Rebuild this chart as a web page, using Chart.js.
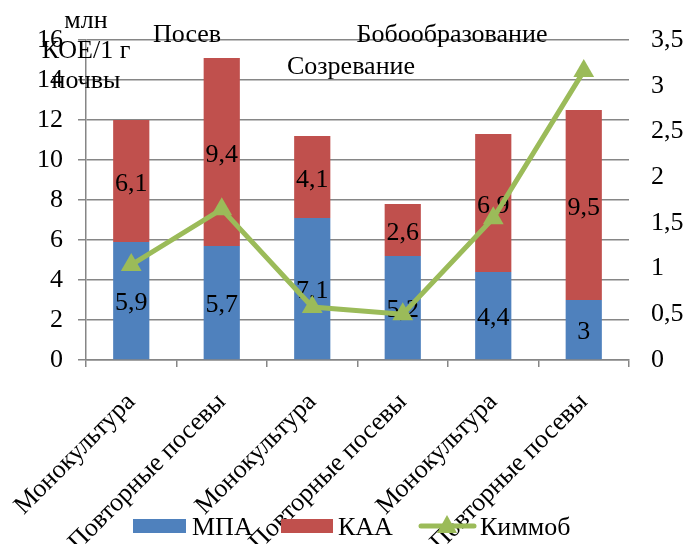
<!DOCTYPE html>
<html><head><meta charset="utf-8">
<script src="https://cdn.jsdelivr.net/npm/chart.js@4/dist/chart.umd.min.js"></script>
<style>html,body{margin:0;padding:0;background:#fff}#wrap{width:686px;height:544px}</style>
</head><body><div id="wrap"><canvas id="c" width="686" height="544"></canvas></div>
<script>
const categories = ['Монокультура','Повторные посевы','Монокультура','Повторные посевы','Монокультура','Повторные посевы'];
const mpaValues = [5.9, 5.7, 7.1, 5.2, 4.4, 3];
const kaaValues = [6.1, 9.4, 4.1, 2.6, 6.9, 9.5];
const kimmobValues = [1.04, 1.65, 0.58, 0.5, 1.55, 3.16];
const seriesNames = ['МПА','КАА','Киммоб'];
const leftTicks = [0,2,4,6,8,10,12,14,16];
const rightTicks = [0,0.5,1,1.5,2,2.5,3,3.5];
const stageLabels = ['Посев','Созревание','Бобообразование'];
const axisTitleLines = ['млн','КОЕ/1 г','почвы'];

const FONT = '"Liberation Serif", "Times New Roman", serif';
const BLUE = '#4F81BD', RED = '#C0504D', GREEN = '#9BBB59', GRID = '#868686';
const fmt = v => String(v).replace('.', ',');

const labelPlugin = {
  id: 'barLabels',
  afterDatasetDraw(chart, args) {
    if (args.index > 1) return;
    const ctx = chart.ctx;
    const ds = chart.data.datasets[args.index];
    ctx.save();
    ctx.font = '26px ' + FONT;
    ctx.fillStyle = '#000';
    ctx.textAlign = 'center';
    ctx.textBaseline = 'middle';
    args.meta.data.forEach((el, i) => {
      const y = (el.y + el.base) / 2;
      ctx.fillText(fmt(ds.data[i]), el.x, y + 3);
    });
    ctx.restore();
  }
};

const decorPlugin = {
  id: 'decor',
  afterDraw(chart) {
    const ctx = chart.ctx;
    ctx.save();
    ctx.font = '26px ' + FONT;
    ctx.fillStyle = '#000';
    ctx.textBaseline = 'alphabetic';
    ctx.textAlign = 'center';
    ctx.fillText(axisTitleLines[0], 86, 28);
    ctx.fillText(axisTitleLines[1], 86, 58);
    ctx.fillText(axisTitleLines[2], 86, 88);
    ctx.fillText(stageLabels[0], 187, 42);
    ctx.fillText(stageLabels[1], 351, 74);
    ctx.fillText(stageLabels[2], 452, 42);
    ctx.textAlign = 'left';
    ctx.fillStyle = BLUE; ctx.fillRect(133, 519, 53, 14);
    ctx.fillStyle = RED; ctx.fillRect(281, 519, 52, 14);
    ctx.strokeStyle = GREEN; ctx.lineWidth = 5; ctx.lineCap = 'round';
    ctx.beginPath(); ctx.moveTo(421, 526); ctx.lineTo(474, 526); ctx.stroke();
    ctx.fillStyle = GREEN;
    ctx.beginPath(); ctx.moveTo(447, 515); ctx.lineTo(457, 533); ctx.lineTo(437, 533); ctx.closePath(); ctx.fill();
    ctx.fillStyle = '#000';
    ctx.fillText(seriesNames[0], 192, 535);
    ctx.fillText(seriesNames[1], 338, 535);
    ctx.fillText(seriesNames[2], 480, 535);
    ctx.restore();
  }
};

new Chart(document.getElementById('c'), {
  data: {
    labels: categories,
    datasets: [
      { type: 'bar', label: seriesNames[0], data: mpaValues, backgroundColor: BLUE, yAxisID: 'y', order: 1,
        barPercentage: 0.4, categoryPercentage: 1 },
      { type: 'bar', label: seriesNames[1], data: kaaValues, backgroundColor: RED, yAxisID: 'y', order: 1,
        barPercentage: 0.4, categoryPercentage: 1 },
      { type: 'line', label: seriesNames[2], data: kimmobValues, yAxisID: 'y1', order: 0,
        borderColor: GREEN, backgroundColor: GREEN, borderWidth: 5, tension: 0,
        pointStyle: 'triangle', pointRadius: 12, pointBackgroundColor: GREEN, pointBorderColor: GREEN, pointBorderWidth: 0 }
    ]
  },
  options: {
    responsive: false,
    animation: false,
    devicePixelRatio: 1,
    layout: { padding: { top: 40, left: 0, right: 0, bottom: 0 } },
    plugins: { legend: { display: false }, tooltip: { enabled: false } },
    scales: {
      x: {
        stacked: true,
        offset: true,
        afterFit: s => { s.height = 184; s.paddingLeft = 0; s.paddingRight = 0; },
        grid: { display: true, drawOnChartArea: false, offset: true, color: GRID, lineWidth: 1.5, tickLength: 7 },
        border: { display: true, color: GRID, width: 1.5 },
        ticks: { autoSkip: false, maxRotation: 45, minRotation: 45, padding: 20, color: '#000',
          font: { family: FONT, size: 26 } }
      },
      y: {
        stacked: true,
        position: 'left',
        min: 0, max: 16,
        afterFit: s => { s.width = 86; s.paddingTop = 0; s.paddingBottom = 0; },
        afterBuildTicks: s => { s.ticks = leftTicks.map(v => ({ value: v })); },
        grid: { color: GRID, lineWidth: 1.5, tickLength: 8 },
        border: { display: true, color: GRID, width: 1.5 },
        ticks: { padding: 15, color: '#000', font: { family: FONT, size: 26 }, callback: v => fmt(v) }
      },
      y1: {
        stacked: false,
        position: 'right',
        min: 0, max: 3.5,
        afterFit: s => { s.width = 57; s.paddingTop = 0; s.paddingBottom = 0; },
        afterBuildTicks: s => { s.ticks = rightTicks.map(v => ({ value: v })); },
        grid: { display: false, drawOnChartArea: false, drawTicks: false, tickLength: 0 },
        border: { display: false },
        ticks: { padding: 22, color: '#000', font: { family: FONT, size: 26 }, callback: v => fmt(v) }
      }
    }
  },
  plugins: [labelPlugin, decorPlugin]
});
</script>
</body></html>
